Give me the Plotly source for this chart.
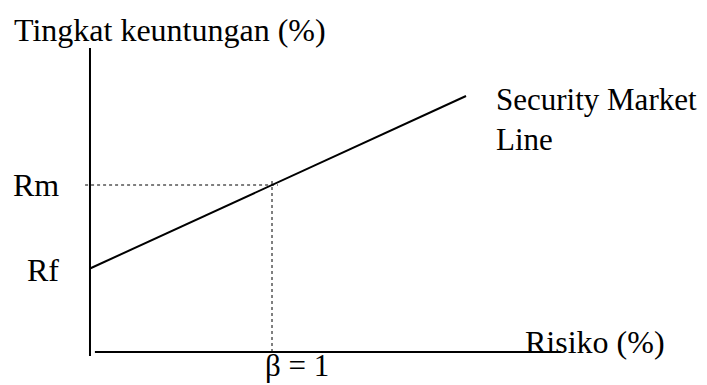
import plotly.graph_objects as go

# --- data (conceptual CAPM values) ---
rf = 5.0            # risk-free rate
rm = 10.0           # market return
beta_market = 1.0   # beta of the market portfolio
sml_beta = [0.0, 2.066]                       # extent of the Security Market Line
sml_return = [rf + b * (rm - rf) for b in sml_beta]
x_axis_beta = [0.027, 2.59]                   # horizontal axis extent
y_axis_return = [-0.24, 18.2]                 # vertical axis extent

FAMILY = "Liberation Serif, Times New Roman, serif"
FONT = dict(family=FAMILY, size=32, color="black")

fig = go.Figure()

# axes drawn as lines
fig.add_trace(go.Scatter(x=[0, 0], y=y_axis_return, mode="lines",
                         line=dict(color="black", width=2), hoverinfo="skip"))
fig.add_trace(go.Scatter(x=x_axis_beta, y=[0, 0], mode="lines",
                         line=dict(color="black", width=2), hoverinfo="skip"))

# dotted guides
fig.add_trace(go.Scatter(x=[-0.027, 1.033], y=[rm, rm], mode="lines",
                         line=dict(color="black", width=1, dash="dot"), hoverinfo="skip"))
fig.add_trace(go.Scatter(x=[beta_market, beta_market], y=[0, rm + 0.4], mode="lines",
                         line=dict(color="black", width=1, dash="dot"), hoverinfo="skip"))

# Security Market Line
fig.add_trace(go.Scatter(x=sml_beta, y=sml_return, mode="lines",
                         line=dict(color="black", width=2), hoverinfo="skip"))

ann = [
    dict(x=-0.159, y=rm, text="Rm", xanchor="right", yanchor="middle", font=FONT),
    dict(x=-0.159, y=rf - 0.1, text="Rf", xanchor="right", yanchor="middle", font=FONT),
    dict(x=0.95, y=-1.97, text="β = 1", xanchor="left", yanchor="bottom",
         font=dict(family=FAMILY, size=31, color="black")),
    dict(x=2.38, y=0.6, text="Risiko (%)", xanchor="left", yanchor="middle", font=FONT),
    dict(x=2.22, y=13.9, text="Security Market<br>Line", xanchor="left",
         yanchor="middle", align="left", font=dict(family=FAMILY, size=31, color="black")),
    dict(x=-0.43, y=19.3, text="Tingkat keuntungan (%)", xanchor="left", yanchor="middle",
         font=FONT),
]
for a in ann:
    fig.add_annotation(showarrow=False, **a)

fig.update_layout(
    width=699, height=377,
    margin=dict(l=0, r=0, t=0, b=0),
    paper_bgcolor="white", plot_bgcolor="white",
    showlegend=False,
    xaxis=dict(range=[-0.4505, 3.39], visible=False, fixedrange=True),
    yaxis=dict(range=[-1.976, 20.599], visible=False, fixedrange=True),
)

fig.write_html("out.html")
